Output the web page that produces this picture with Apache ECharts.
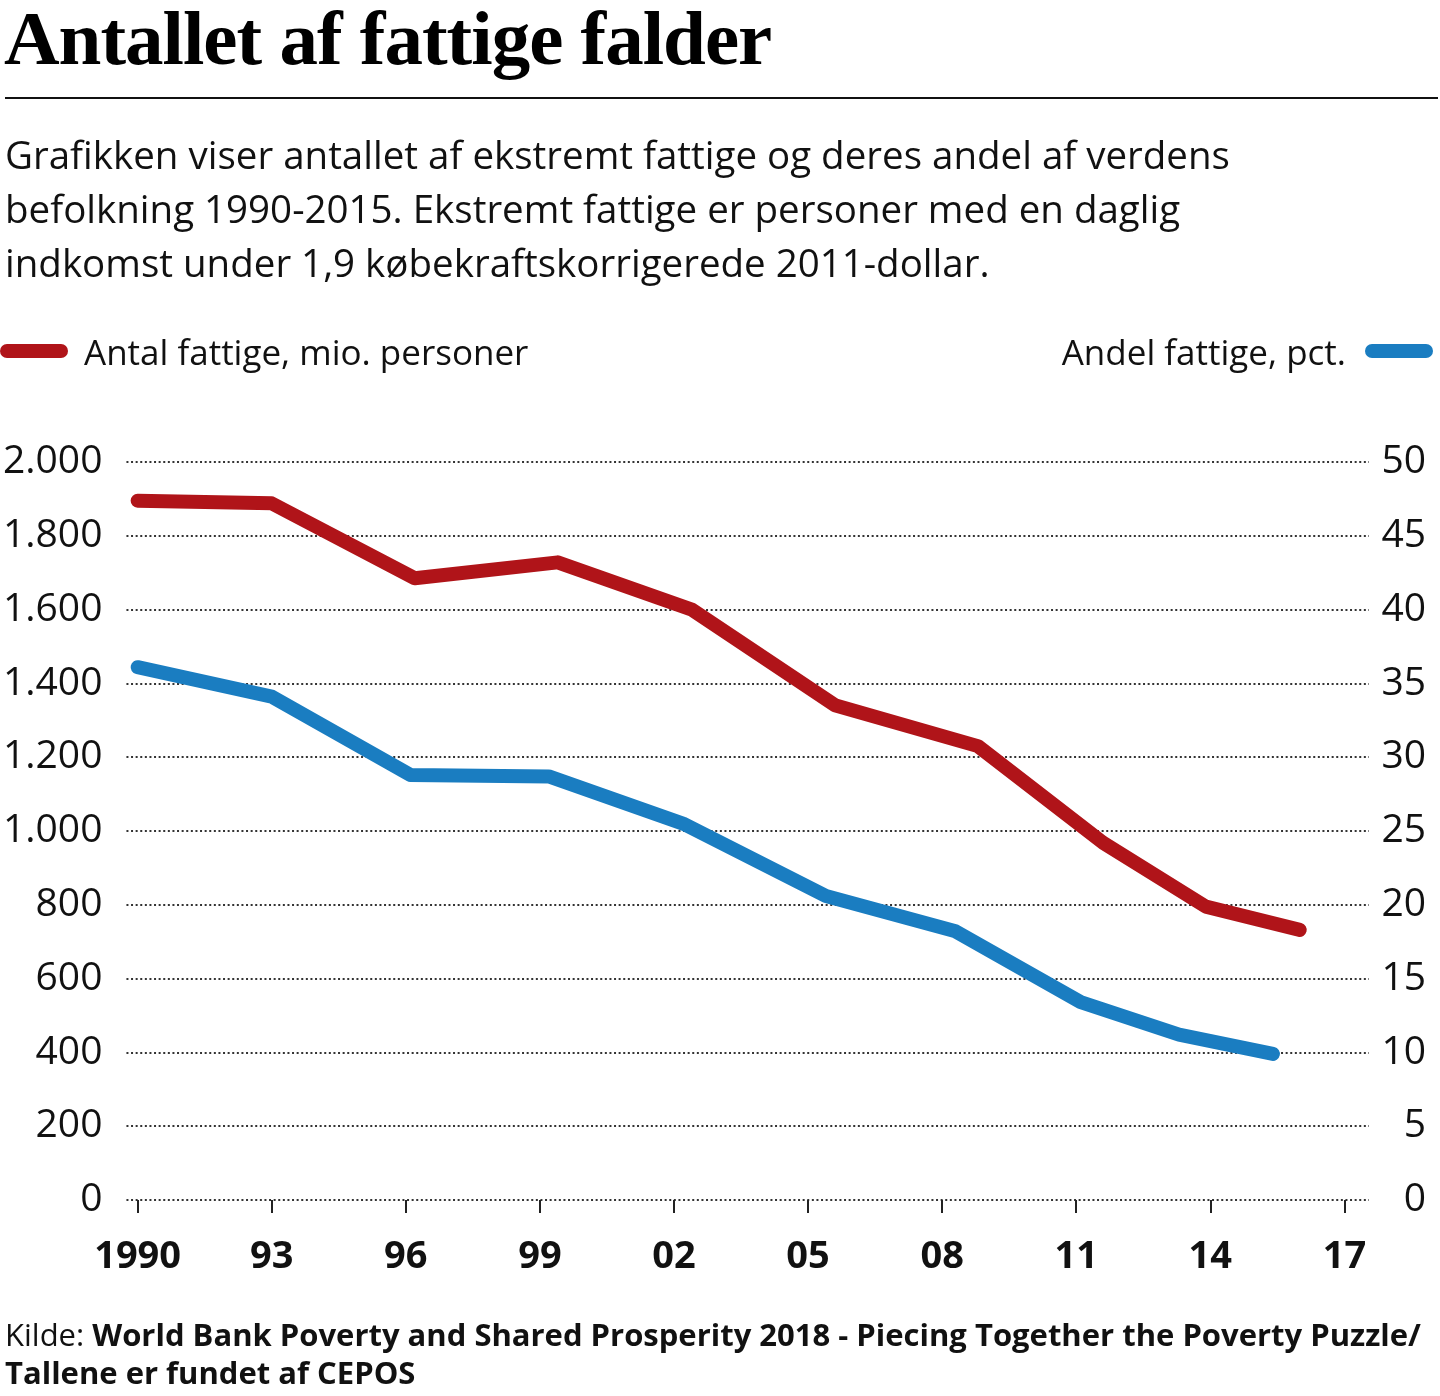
<!DOCTYPE html>
<html><head><meta charset="utf-8">
<script src="https://cdn.jsdelivr.net/npm/echarts@6/dist/echarts.min.js"></script>
<style>
html,body{margin:0;padding:0;background:#fff;}
body{width:1440px;height:1396px;position:relative;overflow:hidden;font-family:"Open Sans",sans-serif;color:#111;}
#chart{position:absolute;left:0;top:0;width:1440px;height:1396px;}
.abs{position:absolute;white-space:nowrap;}
#title{left:4px;top:0px;font-family:"Liberation Serif",serif;font-weight:bold;font-size:77px;line-height:77px;letter-spacing:-1px;color:#000;}
#rule{left:5px;top:97px;width:1433px;height:2px;background:#111;}
#sub{left:5px;top:127px;font-size:38.5px;line-height:54px;}
.pill{position:absolute;width:68px;height:14px;border-radius:7px;}
.leg{font-size:35px;line-height:40px;}
#src{left:5px;top:1315px;font-size:31px;line-height:38px;transform-origin:0 0;}
#src b{font-weight:700;}
</style></head>
<body>
<div id="chart"></div>
<div id="title" class="abs">Antallet af fattige falder</div>
<div id="rule" class="abs"></div>
<div id="sub" class="abs">Grafikken viser antallet af ekstremt fattige og deres andel af verdens<br>befolkning 1990-2015. Ekstremt fattige er personer med en daglig<br>indkomst under 1,9 købekraftskorrigerede 2011-dollar.</div>
<div class="pill" style="left:0;top:344px;background:#b01419;"></div>
<div class="abs leg" style="left:84px;top:332px;">Antal fattige, mio. personer</div>
<div class="abs leg" style="right:94px;top:332px;">Andel fattige, pct.</div>
<div class="pill" style="left:1365px;top:344px;background:#1a7dc1;"></div>
<div id="src" class="abs"><span style="font-weight:400">Kilde: </span><b>World Bank Poverty and Shared Prosperity 2018 - Piecing Together the Poverty Puzzle/</b><br><b>Tallene er fundet af CEPOS</b></div>
<script>
// Data
const xTickValues = [1990, 1993, 1996, 1999, 2002, 2005, 2008, 2011, 2014, 2017];
const xTickLabels = ['1990', '93', '96', '99', '02', '05', '08', '11', '14', '17'];
const leftTickLabels = ['0', '200', '400', '600', '800', '1.000', '1.200', '1.400', '1.600', '1.800', '2.000'];
const rightTickLabels = ['0', '5', '10', '15', '20', '25', '30', '35', '40', '45', '50'];

const redName = 'Antal fattige, mio. personer';
const redYears = [1990, 1993, 1996.2, 1999.4, 2002.4, 2005.6, 2008.8, 2011.6, 2013.9, 2016.0];
const redValues = [1895, 1888, 1685, 1728, 1600, 1341, 1230, 968, 795, 732];

const blueName = 'Andel fattige, pct.';
const blueYears = [1990, 1993, 1996.1, 1999.2, 2002.2, 2005.4, 2008.3, 2011.1, 2013.3, 2015.4];
const blueValues = [36.1, 34.1, 28.8, 28.7, 25.5, 20.6, 18.2, 13.4, 11.2, 9.9];

const chart = echarts.init(document.getElementById('chart'), null, {renderer: 'canvas'});
const pairs = (xs, ys) => xs.map((x, i) => [x, ys[i]]);
const labelFont = {fontFamily: '"Open Sans", sans-serif', color: '#111'};

chart.setOption({
  animation: false,
  backgroundColor: 'transparent',
  grid: {left: 124, right: 71, top: 462, bottom: 196, containLabel: false},
  xAxis: {
    type: 'value', min: 1989.75, max: 2017.55,
    axisLine: {show: false},
    splitLine: {show: false},
    axisTick: {show: true, customValues: xTickValues, length: 13, lineStyle: {color: '#222', width: 2}},
    axisLabel: Object.assign({
      customValues: xTickValues,
      formatter: v => xTickLabels[xTickValues.indexOf(Math.round(v))],
      fontWeight: 'bold', fontSize: 38, margin: 38
    }, labelFont)
  },
  yAxis: [{
    type: 'value', min: 0, max: 2000, interval: 200, position: 'left',
    axisLine: {show: false}, axisTick: {show: false},
    splitLine: {show: true, lineStyle: {type: [2, 2.6], color: '#333', width: 1.8}},
    axisLabel: Object.assign({
      formatter: v => leftTickLabels[Math.round(v / 200)],
      fontSize: 39, margin: 24
    }, labelFont)
  }, {
    type: 'value', min: 0, max: 50, interval: 5, position: 'right',
    axisLine: {show: false}, axisTick: {show: false}, splitLine: {show: false},
    axisLabel: Object.assign({
      formatter: v => rightTickLabels[Math.round(v / 5)],
      fontSize: 39, margin: 57, align: 'right'
    }, labelFont)
  }],
  series: [{
    name: blueName, type: 'line', yAxisIndex: 1, data: pairs(blueYears, blueValues),
    symbol: 'none', lineStyle: {color: '#1a7dc1', width: 14, cap: 'round', join: 'round'}
  }, {
    name: redName, type: 'line', yAxisIndex: 0, data: pairs(redYears, redValues),
    symbol: 'none', lineStyle: {color: '#b01419', width: 14, cap: 'round', join: 'round'}
  }]
});
</script>
</body></html>
